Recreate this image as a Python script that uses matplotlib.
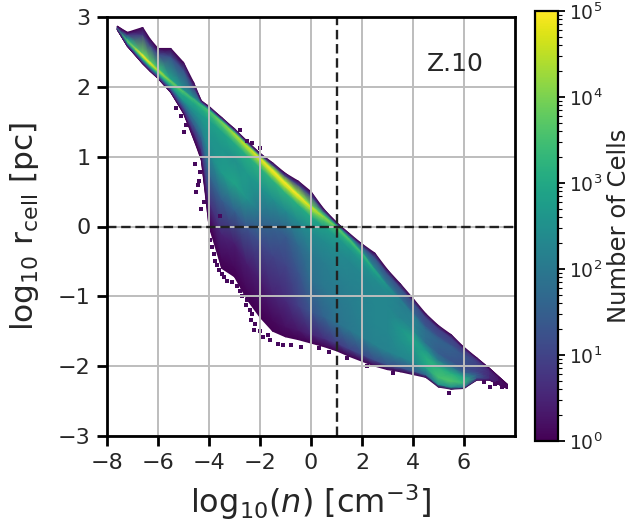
import numpy as np
import matplotlib
matplotlib.use("Agg")
import matplotlib.pyplot as plt
from matplotlib.colors import LogNorm

# density columns
log_n = [-7.6,-7.2,-6.6,-6.3,-6,-5.5,-5,-4.6,-4.3,-4,-3.5,-3,-2.5,-2,-1.5,-1,-.5,0,.5,1,1.5,2,2.5,3,3.5,4,4.5,5,5.5,6,6.5,7,7.7]
# envelope and main ridge of log10 r_cell
r_top    = [2.87,2.78,2.85,2.68,2.55,2.55,2.35,2.06,1.80,1.72,1.56,1.40,1.22,1.05,.91,.76,.65,.50,.25,.06,-.10,-.25,-.38,-.62,-.82,-1.03,-1.25,-1.42,-1.55,-1.73,-1.88,-2.03,-2.26]
r_ridge  = [2.85,2.66,2.45,2.34,2.24,2.08,1.93,1.82,1.74,1.66,1.50,1.33,1.15,.98,.80,.62,.45,.28,.14,.00,-.18,-.38,-.62,-.85,-1.05,-1.25,-1.45,-1.6,-1.72,-1.85,-1.95,-2.06,-2.28]
r_bottom = [2.82,2.58,2.33,2.22,2.12,1.92,1.62,1.25,.95,0,-.6,-.72,-1.05,-1.3,-1.5,-1.58,-1.62,-1.67,-1.72,-1.78,-1.86,-1.93,-2.0,-2.05,-2.08,-2.12,-2.16,-2.3,-2.33,-2.32,-2.2,-2.2,-2.32]
# log10 of number of cells along each band of the envelope
c_above    = [.2,.8,.8,1.0,1.0,1.2,1.2,.8,1,1,1,1,1,1,1,1,1,1,1,1,1,1.2,1.2,1.2,1.2,1.2,1.0,.9,.9,.8,.6,.3,0]
c_near     = [.6,2.6,3.8,3.7,3.4,2.9,2.5,2.4,2.5,2.8,3.2,3.5,3.8,4.0,4.2,4.3,4.2,3.9,3.4,3.0,2.7,2.4,2.2,2.0,1.8,1.6,1.3,1.2,1.2,1.1,.9,.5,0]
c_ridge    = [1.5,3.6,5.0,4.9,4.4,3.9,3.6,3.4,3.4,3.6,4.0,4.4,4.6,4.9,5.0,5.0,5.0,4.7,4.2,3.8,3.6,3.4,3.0,2.5,2.2,2.0,1.6,1.5,1.5,1.3,1.0,.5,0]
c_under    = [.8,3.0,4.2,4.1,3.8,3.3,3.0,3.0,3.1,3.3,3.6,3.9,4.1,4.3,4.5,4.5,4.4,4.1,3.6,3.3,3.1,2.9,2.7,2.4,2.1,2.2,1.8,1.6,1.5,1.3,1.0,.6,0]
c_under2   = [.5,2.3,3.2,3.1,3.0,2.8,2.6,2.6,2.7,2.8,2.9,3.0,3.1,3.2,3.2,3.2,3.1,3.0,2.8,2.7,2.6,2.5,2.4,2.3,2.2,2.2,1.8,1.5,1.4,1.2,1.0,.6,0]
c_shoulder = [.3,1.8,2.6,2.6,2.5,2.3,2.2,2.4,2.5,2.6,2.6,2.5,2.7,2.6,2.5,2.4,2.4,2.4,2.4,2.4,2.3,2.3,2.3,2.3,2.2,2.4,1.8,1.5,1.3,1.2,1.0,.6,0]
c_glow     = [.3,1.0,1.8,1.8,1.8,1.8,1.8,2.0,2.2,2.4,2.7,2.9,2.5,1.9,1.6,1.4,1.7,2.0,2.1,2.2,2.2,2.2,2.3,2.3,2.6,2.9,2.6,2.0,1.8,1.6,1.2,.6,0]
c_mid      = [.3,.6,1.2,1.2,1.2,1.2,1.3,1.5,1.6,1.7,1.5,1.6,1.3,1.1,1.0,1.0,1.3,1.8,2.0,2.05,2.1,2.2,2.3,2.3,2.5,2.6,3.1,3.2,3.1,2.9,1.4,.6,0]
c_low      = [.3,.3,.6,.6,.6,.6,.7,.7,.8,.8,.5,.4,.4,.4,.5,.6,.9,1.3,1.6,1.9,2.0,2.1,2.2,2.2,2.3,2.3,2.9,3.5,3.6,3.3,1.4,.5,0]
c_fringe   = [.1,.1,.1,.1,.1,.1,.1,.1,.1,.1,.1,.1,.1,.1,.1,.2,.3,.5,.7,.9,1.0,1.1,1.2,1.3,1.3,1.3,1.7,2.5,2.5,2.0,.5,.2,0]

# isolated sparse cells beyond the smooth envelope
speck_x = [-4.4,-4.5,-4.55,-4.3,-4.2,-4.35,-4.45,-3.9,-3.95,-3.8,-3.75,-3.7,-3.6,-3.5,-3.4,-3.3,-3.1,-2.9,-2.8,-2.7,-2.5,-2.55,-2.4,-2.3,-2.35,-2.2,-2.25,-2.0,-1.9,-1.7,-1.6,-1.3,-1.1,-.8,-.4,.3,.7,1.4,2.2,3.2,5.4,6.8,7.0,7.2,7.35,7.5,7.6,-2.5,-2.8,-2.3,-2.0,-3.55,-4.9,-5.0,-5.3,-5.1]
speck_y = [.65,.5,.9,.25,.35,.78,.6,-.3,-.2,-.4,-.5,-.55,-.62,-.68,-.72,-.78,-.8,-.85,-.92,-1.0,-1.05,-1.12,-1.2,-1.26,-1.34,-1.4,-1.48,-1.5,-1.58,-1.55,-1.62,-1.68,-1.7,-1.7,-1.72,-1.74,-1.8,-1.88,-2.0,-2.1,-2.38,-2.22,-2.3,-2.26,-2.24,-2.3,-2.28,1.22,1.38,1.2,1.12,.15,1.45,1.35,1.7,1.58]

x_ticks = [-8,-6,-4,-2,0,2,4,6]
y_ticks = [-3,-2,-1,0,1,2,3]
panel_label = "Z.10"

x = np.array(log_n, float)
top = np.array(r_top); ridge = np.array(r_ridge); bottom = np.array(r_bottom)
near = ridge + np.minimum(.035, .35*(top-ridge))
above = ridge + .75*(top-ridge)
under = ridge - np.minimum(.05, .2*(ridge-bottom))
under2 = ridge - np.minimum(.14, .4*(ridge-bottom))
span = under2 - bottom
rows_y = [bottom, under2-.93*span, under2-.75*span, under2-.5*span, under2-.3*span, under2-.12*span, under2, under, ridge, near, above, top]
zero = np.zeros_like(x)
rows_c = [zero, c_fringe, c_low, c_mid, c_glow, c_shoulder, c_under2, c_under, c_ridge, c_near, c_above, zero]
Y = np.array(rows_y)
C = 10.0**np.array(rows_c, float)
X = np.tile(x, (Y.shape[0], 1))

ink = '#262626'
plt.rcParams.update({'font.family': 'DejaVu Sans', 'mathtext.default': 'regular', 'text.color': ink,
                     'axes.labelcolor': ink, 'xtick.labelcolor': ink, 'ytick.labelcolor': ink})
fig = plt.figure(figsize=(6.33, 5.26), dpi=100)
W, H = 633, 526
ax = fig.add_axes([107/W, 1-436/H, 408/W, 419/H])
norm = LogNorm(1, 1e5)
mesh = ax.pcolormesh(X, Y, C, shading='gouraud', cmap='viridis', norm=norm, zorder=1)
ax.scatter(speck_x, speck_y, s=5, marker='s', color=plt.get_cmap('viridis')(0.02), linewidths=0, zorder=1.1)
ax.grid(True, color='#bdbdbd', lw=1.4, zorder=2)
ax.set_axisbelow(False)
ax.axvline(1, color='#222222', ls=(0, (4, 2)), lw=1.7, zorder=3)
ax.axhline(0, color='#222222', ls=(0, (4, 2)), lw=1.7, zorder=3)
ax.set_xlim(-8, 8); ax.set_ylim(-3, 3)
ax.set_xticks(x_ticks); ax.set_yticks(y_ticks)
ax.tick_params(labelsize=16, width=2, length=7, color='black', pad=5)
for s in ax.spines.values():
    s.set_linewidth(2); s.set_color('black')
    s.set_zorder(4)
ax.set_xlabel(r'log$_{10}$($\mathit{n}$) [cm$^{-3}$]', fontsize=23, labelpad=7)
ax.set_ylabel(r'log$_{10}$ r$_{\rm cell}$ [pc]', fontsize=22.5, labelpad=12)
ax.text(4.55, 2.33, panel_label, fontsize=18, va='center', ha='left')

cax = fig.add_axes([535/W, 1-441/H, 23/W, 430/H])
cb = fig.colorbar(mesh, cax=cax)
cb.set_ticks([1, 10, 100, 1e3, 1e4, 1e5])
cb.ax.tick_params(which='major', labelsize=13.5, width=1.3, length=5, pad=3)
cb.ax.tick_params(which='minor', width=.8, length=3)
cb.outline.set_linewidth(1.6)
cb.set_label('Number of Cells', fontsize=17.5, labelpad=3)
fig.savefig('out.png', dpi=100)
